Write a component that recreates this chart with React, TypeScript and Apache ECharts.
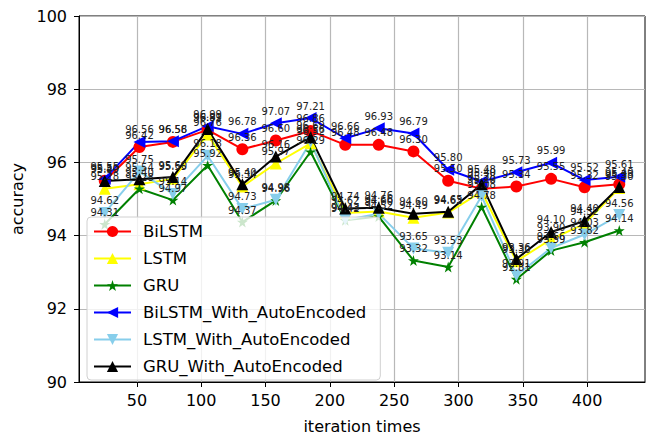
import React, { useEffect, useRef } from "react";
import * as echarts from "echarts";

const iterations = [25, 52, 78, 105, 132, 158, 185, 212, 238, 265, 292, 318, 345, 372, 398, 425];
const xTicks = [50, 100, 150, 200, 250, 300, 350, 400];

const bilstm = [95.5, 96.42, 96.56, 96.89, 96.36, 96.6, 96.86, 96.48, 96.48, 96.3, 95.5, 95.28, 95.34, 95.55, 95.32, 95.4];
const lstm = [95.28, 95.4, 95.55, 96.76, 95.34, 95.97, 96.52, 94.62, 94.66, 94.49, 94.63, 95.2, 93.3, 93.9, 94.32, 95.3];
const gru = [94.31, 95.28, 94.97, 95.92, 94.37, 94.96, 96.29, 94.42, 94.52, 93.32, 93.14, 94.78, 92.81, 93.59, 93.82, 94.14];
const bilstmAE = [95.55, 96.56, 96.58, 96.99, 96.78, 97.07, 97.21, 96.66, 96.93, 96.79, 95.8, 95.48, 95.73, 95.99, 95.52, 95.61];
const lstmAE = [94.62, 95.75, 95.14, 96.18, 94.73, 94.98, 96.56, 94.43, 94.6, 93.65, 93.53, 95.08, 92.91, 93.66, 94.03, 94.56];
const gruAE = [95.49, 95.54, 95.6, 96.91, 95.4, 96.16, 96.69, 94.74, 94.76, 94.6, 94.65, 95.4, 93.36, 94.1, 94.4, 95.33];

const STAR = "path://M50,0 L61.2,34.5 L97.6,34.5 L68.2,55.9 L79.4,90.5 L50,69.1 L20.6,90.5 L31.8,55.9 L2.4,34.5 L38.8,34.5 Z";

const FONT = "DejaVu Sans";

const seriesDefs = [
  { name: "BiLSTM", data: bilstm, color: "#ff0000", symbol: "circle", size: 12, rotate: 0 },
  { name: "LSTM", data: lstm, color: "#ffff00", symbol: "triangle", size: 12, rotate: 0 },
  { name: "GRU", data: gru, color: "#008000", symbol: STAR, size: 11, rotate: 0 },
  { name: "BiLSTM_With_AutoEncoded", data: bilstmAE, color: "#0000ff", symbol: "triangle", size: 12, rotate: 90 },
  { name: "LSTM_With_AutoEncoded", data: lstmAE, color: "#87ceeb", symbol: "triangle", size: 12, rotate: 180 },
  { name: "GRU_With_AutoEncoded", data: gruAE, color: "#000000", symbol: "triangle", size: 12, rotate: 0 },
];

export default function App() {
  const ref = useRef<HTMLDivElement>(null);
  useEffect(() => {
    if (!ref.current) return;
    const chart = echarts.init(ref.current, null, { renderer: "svg" });
    chart.setOption({
      animation: false,
      backgroundColor: "#ffffff",
      textStyle: { fontFamily: FONT },
      grid: {
        left: 79,
        right: 8,
        top: 16,
        bottom: 54,
        show: true,
        borderColor: "#000",
        borderWidth: 1,
        containLabel: false,
      },
      xAxis: {
        type: "value",
        min: 5,
        max: 445,
        name: "iteration times",
        nameLocation: "middle",
        nameGap: 36,
        nameTextStyle: { fontSize: 16, color: "#000", fontFamily: FONT },
        axisLine: { show: true, lineStyle: { color: "#000", width: 1 } },
        axisTick: { show: true, length: 5, customValues: xTicks, lineStyle: { color: "#000" } },
        axisLabel: { customValues: xTicks, fontSize: 16, color: "#000", margin: 10, fontFamily: FONT },
        splitLine: { show: true, lineStyle: { color: "#b8b8b8", width: 1.2 } },
      },
      yAxis: {
        type: "value",
        min: 90,
        max: 100,
        interval: 2,
        name: "accuracy",
        nameLocation: "middle",
        nameGap: 49,
        nameTextStyle: { fontSize: 16, color: "#000", fontFamily: FONT },
        axisLine: { show: true, lineStyle: { color: "#000", width: 1 } },
        axisTick: { show: true, length: 5, lineStyle: { color: "#000" } },
        axisLabel: { fontSize: 16, color: "#000", margin: 12, fontFamily: FONT },
        splitLine: { show: true, lineStyle: { color: "#b8b8b8", width: 1.2 } },
      },
      legend: {
        left: 87,
        top: 217,
        orient: "vertical",
        itemWidth: 37,
        itemHeight: 14,
        itemGap: 10,
        padding: [6, 14, 5, 6],
        backgroundColor: "rgba(255,255,255,0.8)",
        borderColor: "#d0d0d0",
        borderWidth: 1,
        borderRadius: 4,
        textStyle: { fontSize: 16.5, color: "#000", fontFamily: FONT, padding: [0, 0, 0, 7] },
        data: seriesDefs.map((s) => s.name),
      },
      series: seriesDefs.map((s) => ({
        name: s.name,
        type: "line",
        data: iterations.map((x, i) => [x, s.data[i]]),
        symbol: s.symbol,
        symbolSize: s.size,
        symbolRotate: s.rotate,
        showAllSymbol: true,
        lineStyle: { color: s.color, width: 2 },
        itemStyle: { color: s.color, borderColor: s.color, borderWidth: 0 },
        label: {
          show: true,
          position: "top",
          distance: 1,
          fontSize: 10,
          color: "#222",
          fontFamily: FONT,
          formatter: (p: any) => p.value[1].toFixed(2),
        },
        emphasis: { disabled: true },
      })),
    });
    return () => chart.dispose();
  }, []);
  return <div ref={ref} style={{ width: 653, height: 439, position: "absolute", left: 0, top: 0 }} />;
}
